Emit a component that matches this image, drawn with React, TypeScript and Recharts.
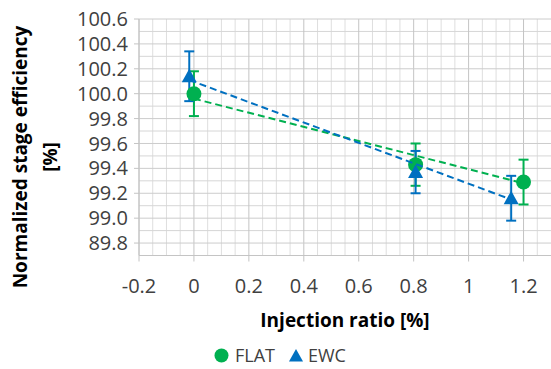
import React from 'react';
import { ScatterChart, Scatter, XAxis, YAxis, ErrorBar, ReferenceLine } from 'recharts';

// FLAT series (green circles)
const flatX = [0, 0.807, 1.2];
const flatY = [100.0, 99.43, 99.29];
const flatErr = [0.18, 0.17, 0.18];
// EWC series (blue triangles)
const ewcX = [-0.017, 0.807, 1.155];
const ewcY = [100.14, 99.37, 99.16];
const ewcErr = [0.2, 0.17, 0.18];
// linear trendlines (endpoints)
const flatTrendX = [0, 1.2];
const flatTrendY = [99.96, 99.28];
const ewcTrendX = [-0.017, 1.155];
const ewcTrendY = [100.11, 99.15];

const xTicks = [-0.2, 0, 0.2, 0.4, 0.6, 0.8, 1, 1.2];
const xTickLabels = ['-0.2', '0', '0.2', '0.4', '0.6', '0.8', '1', '1.2'];
const yTicks = [98.8, 99.0, 99.2, 99.4, 99.6, 99.8, 100.0, 100.2, 100.4, 100.6];
const yTickLabels = ['89.8', '99.0', '99.2', '99.4', '99.6', '99.8', '100.0', '100.2', '100.4', '100.6'];
const xMinorGrid = [-0.15, -0.1, -0.05, 0.05, 0.1, 0.15, 0.25, 0.3, 0.35, 0.45, 0.5, 0.55, 0.65, 0.7, 0.75, 0.85, 0.9, 0.95, 1.05, 1.1, 1.15, 1.25];
const yMinorGrid = [98.7, 98.9, 99.1, 99.3, 99.5, 99.7, 99.9, 100.1, 100.3, 100.5];

const seriesNames = ['FLAT', 'EWC'];
const GREEN = '#00B050';
const BLUE = '#0070C0';
const FONT = '"Open Sans", sans-serif';

const toPts = (xs: number[], ys: number[], es?: number[]) =>
  xs.map((x, i) => ({ x, y: ys[i], err: es ? es[i] : 0 }));

const flatData = toPts(flatX, flatY, flatErr);
const ewcData = toPts(ewcX, ewcY, ewcErr);
const flatTrend = toPts(flatTrendX, flatTrendY);
const ewcTrend = toPts(ewcTrendX, ewcTrendY);

const Circle = (p: any) => <circle cx={p.cx} cy={p.cy} r={7.5} fill={GREEN} />;
const Tri = (p: any) => (
  <polygon
    points={`${p.cx},${p.cy - 7.5} ${p.cx - 7.5},${p.cy + 6} ${p.cx + 7.5},${p.cy + 6}`}
    fill={BLUE}
  />
);
const NoShape = () => <g />;

const YTitle = () => (
  <g fontFamily={FONT} fontWeight="bold" fontSize={19} fill="#000">
    <text x={20} y={157} textAnchor="middle" dominantBaseline="central" transform="rotate(-90 20 157)">
      Normalized stage efficiency
    </text>
    <text x={50} y={157} textAnchor="middle" dominantBaseline="central" transform="rotate(-90 50 157)">
      [%]
    </text>
  </g>
);

const XTitle = () => (
  <text x={345} y={320} textAnchor="middle" dominantBaseline="central" fontFamily={FONT} fontWeight="bold" fontSize={19} fill="#000">
    Injection ratio [%]
  </text>
);

export default function App() {
  return (
    <div style={{ position: 'absolute', left: 0, top: 0, width: 551, height: 369, background: '#fff' }}>
      <ScatterChart width={551} height={369} margin={{ top: 19, right: 0, bottom: 0, left: 0 }}>
        {xMinorGrid.map((v) => (
          <ReferenceLine key={'xm' + v} x={v} stroke="#dedede" strokeWidth={1} />
        ))}
        {yMinorGrid.map((v) => (
          <ReferenceLine key={'ym' + v} y={v} stroke="#d6d6d6" strokeWidth={1} />
        ))}
        {xTicks.map((v) => (
          <ReferenceLine key={'xM' + v} x={v} stroke="#c4c4c4" strokeWidth={1} />
        ))}
        {yTicks.map((v) => (
          <ReferenceLine key={'yM' + v} y={v} stroke="#cccccc" strokeWidth={1} />
        ))}
        <XAxis
          type="number"
          dataKey="x"
          domain={[-0.2, 1.3]}
          ticks={xTicks}
          interval={0}
          tickFormatter={(v: number) => xTickLabels[xTicks.indexOf(v)] ?? ''}
          height={113.5}
          axisLine={{ stroke: '#c4c4c4' }}
          tickLine={{ stroke: '#c4c4c4' }}
          tickSize={6}
          tickMargin={17}
          tick={{ fontFamily: FONT, fontSize: 20, fill: '#404040' }}
          allowDataOverflow
          label={{ content: XTitle }}
        />
        <YAxis
          type="number"
          dataKey="y"
          domain={[98.7, 100.6]}
          ticks={yTicks}
          interval={0}
          tickFormatter={(v: number) => yTickLabels[yTicks.indexOf(v)] ?? ''}
          width={139}
          axisLine={{ stroke: '#c4c4c4' }}
          tickLine={{ stroke: '#c4c4c4' }}
          tickSize={5}
          tickMargin={6}
          tick={{ fontFamily: FONT, fontSize: 20, fill: '#404040' }}
          allowDataOverflow
          label={{ content: YTitle }}
        />
        <Scatter name={seriesNames[0]} data={flatData} shape={Circle} isAnimationActive={false}>
          <ErrorBar dataKey="err" direction="y" width={5} stroke={GREEN} strokeWidth={2} isAnimationActive={false} />
        </Scatter>
        <Scatter name={seriesNames[1]} data={ewcData} shape={Tri} isAnimationActive={false}>
          <ErrorBar dataKey="err" direction="y" width={5} stroke={BLUE} strokeWidth={2} isAnimationActive={false} />
        </Scatter>
        <Scatter
          data={flatTrend}
          shape={NoShape}
          line={{ stroke: GREEN, strokeWidth: 2, strokeDasharray: '7 4' }}
          isAnimationActive={false}
          legendType="none"
        />
        <Scatter
          data={ewcTrend}
          shape={NoShape}
          line={{ stroke: BLUE, strokeWidth: 2, strokeDasharray: '7 4' }}
          isAnimationActive={false}
          legendType="none"
        />
      </ScatterChart>
      <div
        style={{
          position: 'absolute',
          left: 214,
          top: 343,
          display: 'flex',
          alignItems: 'center',
          fontFamily: FONT,
          fontSize: 18,
          color: '#404040',
          whiteSpace: 'nowrap',
          lineHeight: '24px',
        }}
      >
        <svg width={15} height={15} style={{ marginRight: 6 }}>
          <circle cx={7.5} cy={7.5} r={7} fill={GREEN} />
        </svg>
        <span style={{ marginRight: 14 }}>{seriesNames[0]}</span>
        <svg width={14} height={13} style={{ marginRight: 5 }}>
          <polygon points="7,0 0,12.5 14,12.5" fill={BLUE} />
        </svg>
        <span>{seriesNames[1]}</span>
      </div>
    </div>
  );
}
